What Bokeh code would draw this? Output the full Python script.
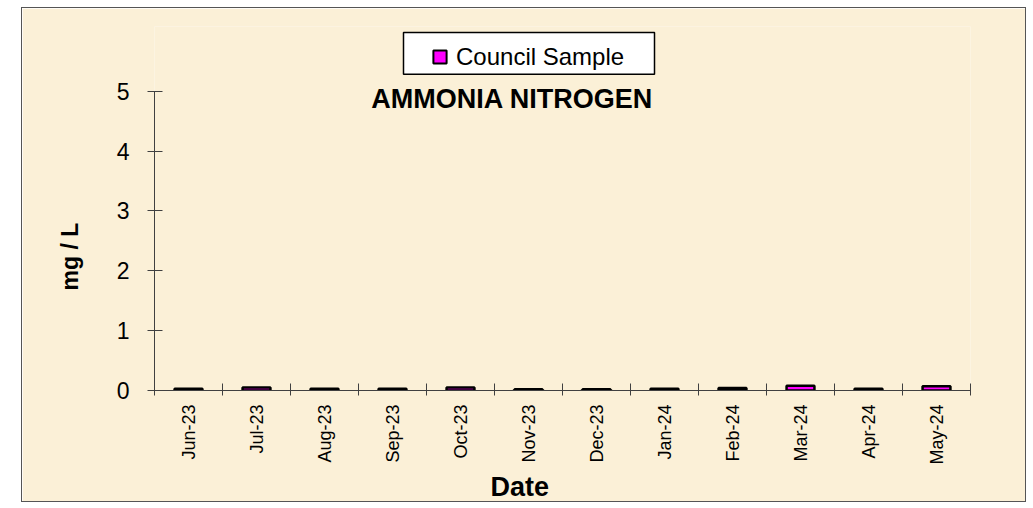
import numpy as np
from math import pi
from bokeh.plotting import figure
from bokeh.models import (Range1d, FixedTicker, ColumnDataSource, Label, Legend, LegendItem,
                          Spacer, Title, BoxAnnotation)
from bokeh.layouts import row, column
from bokeh.embed import file_html
from bokeh.resources import INLINE

# ---- data ----
months = ["Jun-23", "Jul-23", "Aug-23", "Sep-23", "Oct-23", "Nov-23",
          "Dec-23", "Jan-24", "Feb-24", "Mar-24", "Apr-24", "May-24"]
council_sample = [0.03, 0.05, 0.03, 0.03, 0.05, 0.02, 0.02, 0.03, 0.04, 0.08, 0.03, 0.07]
y_ticks = [0, 1, 2, 3, 4, 5]
series_name = "Council Sample"
title_text = "AMMONIA NITROGEN"
x_title = "Date"
y_title = "mg / L"

FONT = "Liberation Sans"
BG = "#FBF0D7"
AX = "#404040"

n = len(months)
centers = list(np.arange(n) + 0.5)
bounds = list(np.arange(n + 1).astype(float))

PX_PER_UNIT = 60.0
CAT_PX = 68.0
TOP_PAD_PX = 65          # extra room above the 5-line for legend/title
y_max = max(y_ticks)

p = figure(width=1005, height=495, output_backend="svg", toolbar_location=None,
           x_range=Range1d(0, n), y_range=Range1d(0, y_max + TOP_PAD_PX / PX_PER_UNIT),
           min_border_left=132, min_border_right=57, min_border_top=18, min_border_bottom=112)
p.styles = {"border": "1px solid #555555"}
p.background_fill_color = BG
p.border_fill_color = BG
p.outline_line_color = None
p.grid.visible = False

src = ColumnDataSource(dict(x=centers, top=council_sample, month=months))
p.vbar(x="x", top="top", bottom=0, width=0.41, source=src,
       fill_color="#FF00FF", line_color="black", line_width=2.5)

# legend frame (pixel offsets from the plot-area origin converted to data units)
box_l, box_r, box_t, box_b = 249, 500, 359, 317   # px from frame left / from 0-line upward
p.add_layout(BoxAnnotation(left=box_l / CAT_PX, right=box_r / CAT_PX,
                           bottom=box_b / PX_PER_UNIT, top=box_t / PX_PER_UNIT,
                           fill_color="white", fill_alpha=1.0,
                           line_color="black", line_width=1.5, line_alpha=1.0))

# legend proxy
leg_r = p.scatter(x=[np.nan], y=[np.nan], marker="square", size=13,
                  fill_color="#FF00FF", line_color="black", line_width=2)
legend = Legend(items=[LegendItem(label=series_name, renderers=[leg_r])],
                location=(269, 317), orientation="vertical",
                padding=4, spacing=0, margin=0,
                glyph_width=33, glyph_height=33, label_standoff=0,
                label_text_font=FONT, label_text_font_size="24px", label_text_color="black",
                border_line_color=None, background_fill_alpha=0.0)
p.add_layout(legend, "center")

# x axis
xa = p.xaxis[0]
xa.ticker = FixedTicker(ticks=centers, minor_ticks=bounds)
xa.major_label_overrides = {float(c): m for c, m in zip(centers, months)}
xa.major_label_orientation = pi / 2
xa.major_tick_out = 0
xa.major_tick_in = 0
xa.minor_tick_out = 5
xa.minor_tick_in = 7
xa.minor_tick_line_color = AX
xa.axis_line_color = AX
xa.major_label_standoff = 9
xa.major_label_text_font = FONT
xa.major_label_text_font_size = "18px"
xa.major_label_text_color = "black"

# y axis
ya = p.yaxis[0]
ya.ticker = FixedTicker(ticks=y_ticks)
ya.bounds = (0, y_max)
ya.minor_tick_line_color = None
ya.major_tick_out = 7
ya.major_tick_in = 8
ya.major_tick_line_color = AX
ya.axis_line_color = AX
ya.major_label_standoff = 18
ya.major_label_text_font = FONT
ya.major_label_text_font_size = "23px"
ya.major_label_text_color = "black"

# chart title inside plot area
p.add_layout(Label(x=5.26, y=4.87, text=title_text, text_align="center", text_baseline="middle",
                   text_font=FONT, text_font_size="27px", text_font_style="bold", text_color="black"))

# axis titles
p.add_layout(Title(text=x_title, align="left", offset=336, standoff=4,
                   text_font=FONT, text_font_size="27px", text_font_style="bold",
                   text_color="black"), "below")
p.add_layout(Title(text=y_title, align="left", offset=100, standoff=62,
                   text_font=FONT, text_font_size="23px", text_font_style="bold",
                   text_color="black"), "left")

layout = column(Spacer(width=10, height=7), row(Spacer(width=21, height=10), p))
open("out.html", "w").write(file_html(layout, INLINE))
